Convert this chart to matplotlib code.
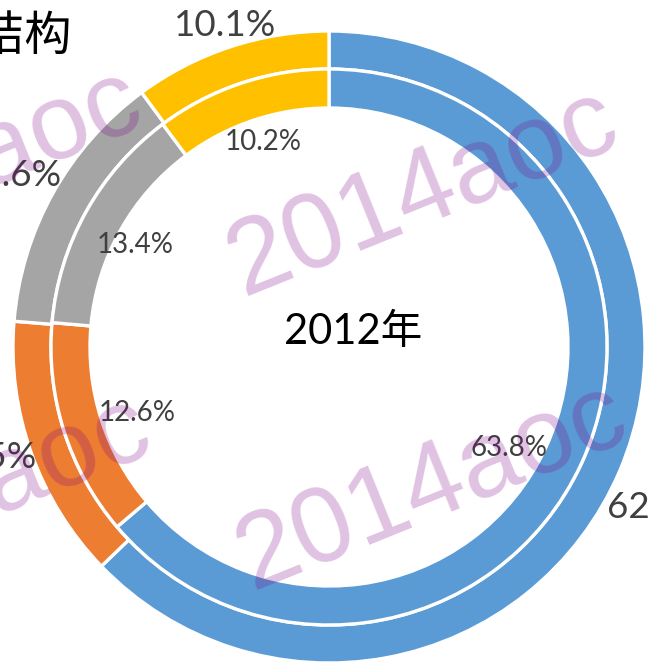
import numpy as np
import matplotlib
matplotlib.use("Agg")
import matplotlib.pyplot as plt

# ---------------- data ----------------
categories = ["类别一", "类别二", "类别三", "类别四"]
outer_values = [62.8, 13.5, 13.6, 10.1]
inner_values = [63.8, 12.6, 13.4, 10.2]
outer_labels = ["62.8%", "13.5%", "13.6%", "10.1%"]
inner_labels = ["63.8%", "12.6%", "13.4%", "10.2%"]
center_text = "2012年"
title_text = "能源消费结构"
watermark = "2014aoc"

colors = ["#5B9BD5", "#ED7D31", "#A5A5A5", "#FFC000"]

# ---------------- layout (pixels) ----------------
W, H = 651, 664
CX, CY_PX = 329, 347
CY = H - CY_PX

fig = plt.figure(figsize=(W / 100, H / 100), dpi=100)
ax = fig.add_axes([0, 0, 1, 1])

wp = dict(edgecolor="white", linewidth=2.4)
ax.pie(outer_values, radius=316, center=(CX, CY), startangle=90,
       counterclock=False, colors=colors,
       wedgeprops=dict(width=38, **wp), frame=True)
ax.pie(inner_values, radius=278, center=(CX, CY), startangle=90,
       counterclock=False, colors=colors,
       wedgeprops=dict(width=39, **wp), frame=True)


def label_pos(values, i, r, nudge):
    total = float(sum(values))
    start = sum(values[:i]) / total * 360.0
    mid = start + values[i] / total * 360.0 / 2 + nudge
    th = np.deg2rad(mid)
    return CX + r * np.sin(th), CY + r * np.cos(th)


lab_font = ["Lato", "DejaVu Sans"]
lab_color = "#404040"

outer_r = [366, 360, 361, 338]
outer_nudge = [3.0, 1.8, -0.8, 0.2]
for i, t in enumerate(outer_labels):
    x, y = label_pos(outer_values, i, outer_r[i], outer_nudge[i])
    ax.text(x, y, t, ha="center", va="center", fontsize=26.5,
            color=lab_color, family=lab_font, zorder=5)

inner_r = [206, 203, 219, 215]
inner_nudge = [4.5, -1.4, -1.5, 0.6]
for i, t in enumerate(inner_labels):
    x, y = label_pos(inner_values, i, inner_r[i], inner_nudge[i])
    ax.text(x, y, t, ha="center", va="center", fontsize=20,
            color=lab_color, family=lab_font, zorder=5)

ax.text(353, H - 332, center_text, ha="center", va="center", fontsize=30,
        color="black", family=["Lato", "Noto Sans CJK SC"], zorder=5)

ax.text(72, H - 37, title_text, ha="right", va="center", fontsize=34,
        color="black", family=["Noto Sans CJK SC", "DejaVu Sans"], zorder=5)

# watermark instances (pixel anchors at left baseline)
wm_anchors = [(243, 296), (252, 590), (-233, 276), (-224, 603)]
for (px, py) in wm_anchors:
    ax.text(px, H - py, watermark, ha="left", va="baseline",
            rotation=22, rotation_mode="anchor", fontsize=77,
            family=["Liberation Sans", "DejaVu Sans"],
            color=(0.49, 0.0, 0.52), alpha=0.24, zorder=10)

ax.set_xlim(0, W)
ax.set_ylim(0, H)
ax.set_aspect("auto")
ax.axis("off")

fig.savefig("out.png", dpi=100)
